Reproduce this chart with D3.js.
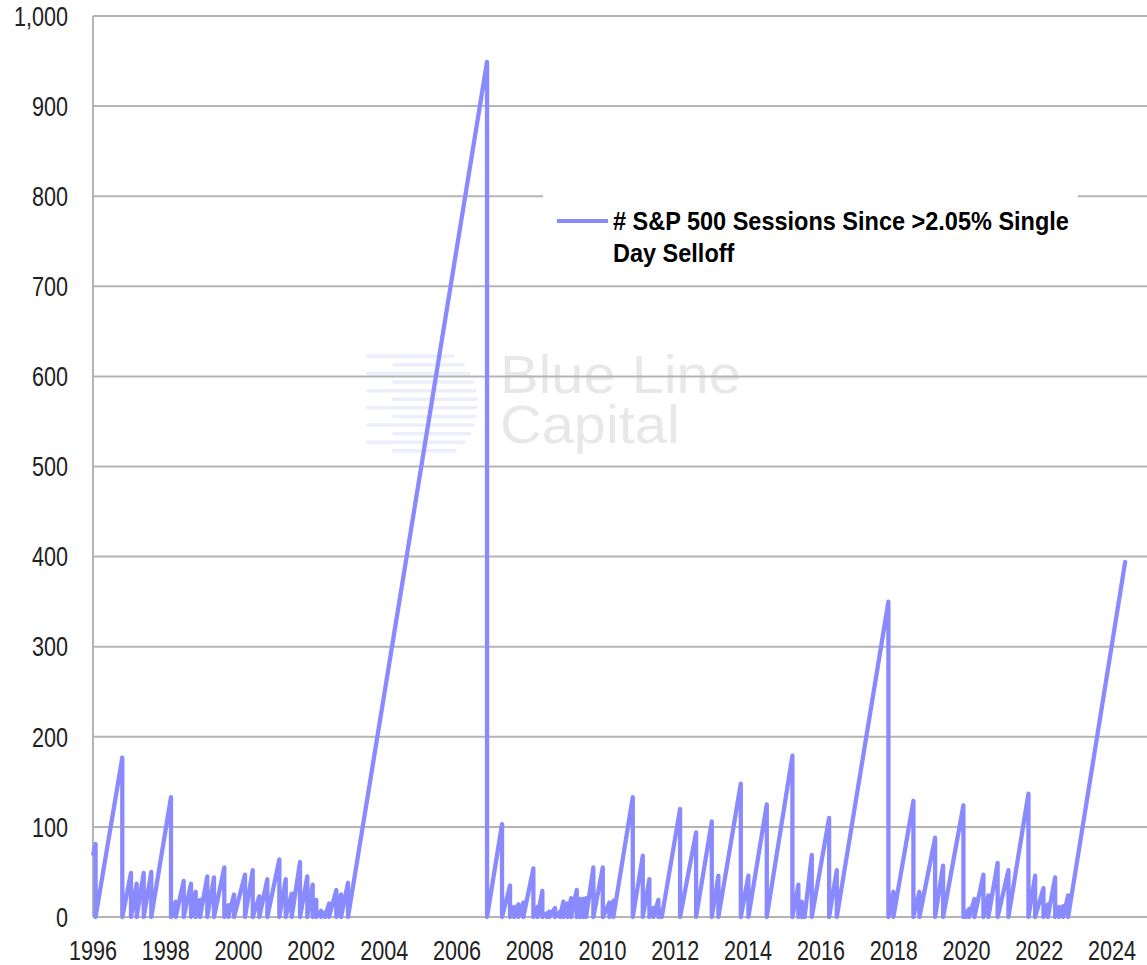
<!DOCTYPE html>
<html>
<head>
<meta charset="utf-8">
<script src="https://cdn.jsdelivr.net/npm/d3@7"></script>
<style>
    body { margin: 0; background: #fff; }
    svg { display: block; }
</style>
</head>
<body>
<div id="chart"></div>
<script>
// Sessions-since-selloff sawtooth: fractional year of each reset and the count reached on it
const resetDates = [
    1996.008, 1996.071, 1996.805, 1997.044, 1997.201, 1997.393, 1997.602, 1998.143, 1998.273, 1998.492,
    1998.693, 1998.822, 1998.940, 1999.141, 1999.325, 1999.608, 1999.718, 1999.875, 2000.177, 2000.389,
    2000.570, 2000.790, 2001.120, 2001.296, 2001.460, 2001.688, 2001.889, 2002.037, 2002.136, 2002.266,
    2002.376, 2002.485, 2002.686, 2002.815, 2003.008, 2006.827, 2007.239, 2007.459, 2007.569, 2007.687,
    2007.825, 2008.100, 2008.215, 2008.347, 2008.468, 2008.539, 2008.696, 2008.833, 2008.924, 2009.034,
    2009.136, 2009.292, 2009.383, 2009.474, 2009.548, 2009.748, 2010.007, 2010.188, 2010.298, 2010.831,
    2011.106, 2011.287, 2011.397, 2011.535, 2011.628, 2012.131, 2012.571, 2013.002, 2013.184, 2013.799,
    2014.008, 2014.513, 2015.217, 2015.382, 2015.475, 2015.552, 2015.750, 2016.226, 2016.437, 2017.855,
    2017.992, 2018.542, 2018.707, 2019.138, 2019.358, 2019.916, 2019.990, 2020.073, 2020.218, 2020.466,
    2020.603, 2020.856, 2021.153, 2021.703, 2021.887, 2022.115, 2022.236, 2022.436, 2022.546, 2022.656,
    2022.793, 2024.360
];
const resetPeaks = [
    70, 81, 177, 49, 37, 49, 50, 133, 17, 40,
    37, 28, 19, 45, 44, 55, 13, 25, 47, 52,
    23, 42, 64, 42, 26, 61, 45, 36, 19, 7,
    5, 15, 30, 25, 38, 949, 103, 35, 11, 14,
    16, 54, 11, 29, 4, 6, 10, 6, 17, 15,
    21, 30, 20, 20, 21, 55, 55, 16, 18, 133,
    68, 42, 10, 19, 8, 120, 94, 106, 46, 148,
    46, 125, 179, 36, 17, 10, 69, 110, 52, 350,
    28, 129, 28, 88, 57, 124, 6, 9, 20, 47,
    24, 60, 52, 137, 46, 32, 14, 44, 11, 12,
    24, 394
];

const yTicks = [0, 100, 200, 300, 400, 500, 600, 700, 800, 900, 1000];
const xTickYears = [1996, 1998, 2000, 2002, 2004, 2006, 2008, 2010, 2012, 2014, 2016, 2018, 2020, 2022, 2024];
const legendLines = ['# S&P 500 Sessions Since >2.05% Single', 'Day Selloff'];

// Layout
const CONFIG = {
    width: 1147,
    height: 965,
    left: 93,
    right: 1147,
    top: 16,
    bottom: 917,
    lineColor: '#8a8aff',
    gridColor: '#b4b4b4',
    font: "'Liberation Sans', Arial, sans-serif",
    squeeze: 0.8   // no narrow face installed, so condense the regular one
};

const svg = d3.select('#chart')
    .append('svg')
    .attr('width', CONFIG.width)
    .attr('height', CONFIG.height);

const x = d3.scaleLinear()
    .domain([1996, 2024.96])
    .range([CONFIG.left, CONFIG.right]);

const y = d3.scaleLinear()
    .domain([0, 1000])
    .range([CONFIG.bottom, CONFIG.top]);

// Watermark behind everything
const mark = svg.append('g').attr('class', 'watermark');
for (let i = 0; i < 12; i++) {
    const yy = 356 + i * 8.6;
    const off = i % 2 === 0 ? 0 : 26;
    const t = (yy - 404) / 52;
    const rightEdge = 440 + 38 * Math.sqrt(Math.max(0, 1 - t * t));
    mark.append('rect')
        .attr('x', 366 + off)
        .attr('y', yy - 1.5)
        .attr('width', rightEdge - 366 - off)
        .attr('height', 3.5)
        .attr('rx', 1.75)
        .attr('fill', '#eceefb');
}
const markText = mark.append('text')
    .attr('transform', 'translate(500,0) scale(1.07,1)')
    .style('font-family', CONFIG.font)
    .style('font-size', '54px')
    .style('fill', '#e8e8e8');
markText.append('tspan').attr('x', 0).attr('y', 393).text('Blue Line');
markText.append('tspan').attr('x', 0).attr('y', 443).text('Capital');

// Grid lines
svg.append('g')
    .selectAll('line')
    .data(yTicks)
    .enter().append('line')
    .attr('x1', CONFIG.left)
    .attr('x2', CONFIG.right)
    .attr('y1', d => y(d))
    .attr('y2', d => y(d))
    .attr('stroke', CONFIG.gridColor)
    .attr('stroke-width', 2);

svg.append('line')
    .attr('x1', CONFIG.left).attr('x2', CONFIG.left)
    .attr('y1', CONFIG.top).attr('y2', CONFIG.bottom)
    .attr('stroke', CONFIG.gridColor)
    .attr('stroke-width', 2);

// Y tick labels
svg.append('g')
    .selectAll('text')
    .data(yTicks)
    .enter().append('text')
    .attr('transform', d => `translate(68,${y(d)}) scale(${CONFIG.squeeze},1)`)
    .attr('dy', '0.36em')
    .attr('text-anchor', 'end')
    .text(d => d3.format(',')(d))
    .style('font-family', CONFIG.font)
    .style('font-size', '27px')
    .style('fill', '#222');

// X tick labels
svg.append('g')
    .selectAll('text')
    .data(xTickYears)
    .enter().append('text')
    .attr('transform', d => `translate(${x(d)},960) scale(${CONFIG.squeeze},1)`)
    .attr('text-anchor', 'middle')
    .text(d => d)
    .style('font-family', CONFIG.font)
    .style('font-size', '27px')
    .style('fill', '#222');

// Build the sawtooth: climb to each peak, then drop back to zero
const points = [];
resetDates.forEach((d, i) => {
    points.push([d, resetPeaks[i]]);
    if (i > 0 && i < resetDates.length - 1) points.push([d, 0]);
});

const line = d3.line()
    .x(d => x(d[0]))
    .y(d => y(d[1]));

svg.append('path')
    .datum(points)
    .attr('d', line)
    .attr('fill', 'none')
    .attr('stroke', CONFIG.lineColor)
    .attr('stroke-width', 4.3)
    .attr('stroke-linejoin', 'round')
    .attr('stroke-linecap', 'round');

// Legend
const legend = svg.append('g');
legend.append('rect')
    .attr('x', 543).attr('y', 188)
    .attr('width', 535).attr('height', 88)
    .attr('fill', '#fff');
legend.append('line')
    .attr('x1', 557).attr('x2', 608)
    .attr('y1', 221).attr('y2', 221)
    .attr('stroke', CONFIG.lineColor)
    .attr('stroke-width', 4);
legend.selectAll('text')
    .data(legendLines)
    .enter().append('text')
    .attr('transform', (d, i) => `translate(613,${230 + i * 32}) scale(0.94,1)`)
    .text(d => d)
    .style('font-family', CONFIG.font)
    .style('font-weight', 'bold')
    .style('font-size', '25px')
    .style('fill', '#000');
</script>
</body>
</html>
